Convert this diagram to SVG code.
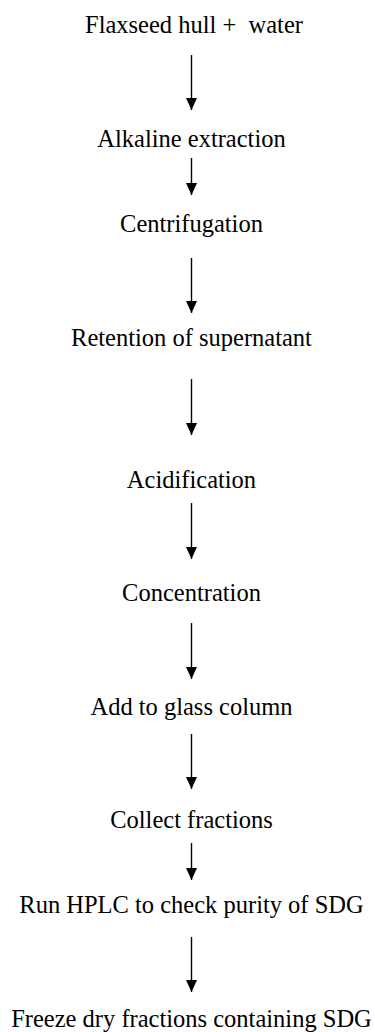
<svg xmlns="http://www.w3.org/2000/svg" width="375" height="1032" viewBox="0 0 375 1032">
<style>
.lbl{font-family:"Liberation Serif","Times New Roman",serif;font-size:24.5px;fill:#000;text-anchor:middle}
.arr{stroke:#000;stroke-width:1.4;fill:none}
</style>
<defs>
<marker id="ah" viewBox="0 0 12 11" refX="12" refY="5.5" markerWidth="12" markerHeight="11" markerUnits="userSpaceOnUse" orient="auto">
<path d="M0,0 L12,5.5 L0,11 z" fill="#000"/>
</marker>
</defs>
<rect width="375" height="1032" fill="#fff"/>
<g id="connectors">
<line class="arr" x1="191.5" y1="55" x2="191.5" y2="110" marker-end="url(#ah)"/>
<line class="arr" x1="191.5" y1="158" x2="191.5" y2="195" marker-end="url(#ah)"/>
<line class="arr" x1="191.5" y1="258" x2="191.5" y2="313" marker-end="url(#ah)"/>
<line class="arr" x1="191.5" y1="379" x2="191.5" y2="435" marker-end="url(#ah)"/>
<line class="arr" x1="191.5" y1="503" x2="191.5" y2="559" marker-end="url(#ah)"/>
<line class="arr" x1="191.5" y1="623" x2="191.5" y2="679" marker-end="url(#ah)"/>
<line class="arr" x1="191.5" y1="734" x2="191.5" y2="789" marker-end="url(#ah)"/>
<line class="arr" x1="191.5" y1="843" x2="191.5" y2="880" marker-end="url(#ah)"/>
<line class="arr" x1="191.5" y1="937" x2="191.5" y2="992" marker-end="url(#ah)"/>
</g>
<g id="n1"><text class="lbl" x="194" y="33" xml:space="preserve">Flaxseed hull +  water</text></g>
<g id="n2"><text class="lbl" x="191.5" y="147">Alkaline extraction</text></g>
<g id="n3"><text class="lbl" x="191.5" y="232">Centrifugation</text></g>
<g id="n4"><text class="lbl" x="191.5" y="346">Retention of supernatant</text></g>
<g id="n5"><text class="lbl" x="191.5" y="488">Acidification</text></g>
<g id="n6"><text class="lbl" x="191.5" y="601">Concentration</text></g>
<g id="n7"><text class="lbl" x="191.5" y="715">Add to glass column</text></g>
<g id="n8"><text class="lbl" x="191.5" y="828">Collect fractions</text></g>
<g id="n9"><text class="lbl" x="191.5" y="913">Run HPLC to check purity of SDG</text></g>
<g id="n10"><text class="lbl" x="191.5" y="1027">Freeze dry fractions containing SDG</text></g>
</svg>
